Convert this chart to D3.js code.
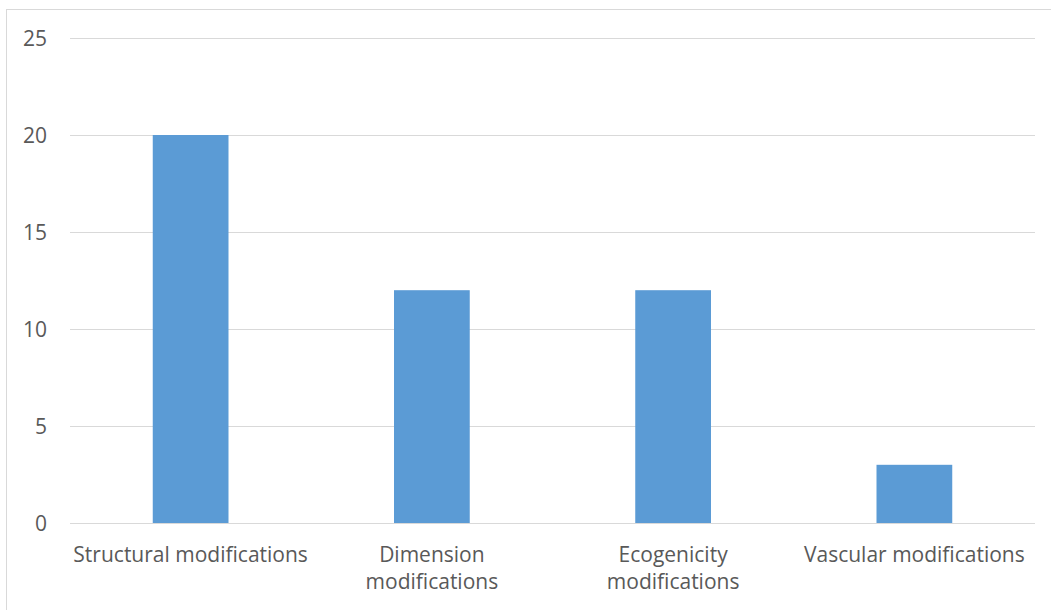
<!DOCTYPE html>
<html>
<head>
<meta charset="utf-8">
<script src="https://cdn.jsdelivr.net/npm/d3@7"></script>
<style>
  html, body { margin: 0; padding: 0; background: #fff; }
  svg { display: block; }
</style>
</head>
<body>
<svg id="chart" width="1051" height="610"></svg>
<script>
const categories = [
  ["Structural modifications"],
  ["Dimension", "modifications"],
  ["Ecogenicity", "modifications"],
  ["Vascular modifications"]
];
const values = [20, 12, 12, 3];
const yTicks = [0, 5, 10, 15, 20, 25];

const W = 1051, H = 610;
const margin = { left: 70, right: 16, top: 38, bottom: 87 };
const svg = d3.select("#chart");
const font = "'Open Sans', 'Noto Sans', sans-serif";

// chart frame
svg.append("rect")
  .attr("x", 6.5).attr("y", 9.5)
  .attr("width", W).attr("height", H)
  .attr("fill", "#fff").attr("stroke", "#d9d9d9").attr("stroke-width", 1);

const x = d3.scaleBand()
  .domain(categories.map((d, i) => i))
  .range([margin.left, W - margin.right])
  .paddingInner(0.686).paddingOuter(0.343);

const y = d3.scaleLinear()
  .domain([0, 25])
  .range([H - margin.bottom, margin.top]);

// horizontal gridlines
svg.append("g").selectAll("line")
  .data(yTicks)
  .join("line")
  .attr("x1", margin.left).attr("x2", W - margin.right)
  .attr("y1", d => Math.round(y(d)) + 0.5).attr("y2", d => Math.round(y(d)) + 0.5)
  .attr("stroke", "#d9d9d9").attr("stroke-width", 1);

// bars
svg.append("g").selectAll("rect")
  .data(values)
  .join("rect")
  .attr("x", (d, i) => x(i))
  .attr("width", x.bandwidth())
  .attr("y", d => y(d))
  .attr("height", d => y(0) - y(d))
  .attr("fill", "#5b9bd5");

// y-axis labels
svg.append("g").selectAll("text")
  .data(yTicks)
  .join("text")
  .attr("x", 47)
  .attr("y", d => y(d))
  .attr("dy", "0.36em")
  .attr("text-anchor", "end")
  .attr("font-family", font)
  .attr("font-size", 21)
  .attr("fill", "#595959")
  .text(d => d);

// category labels
const cat = svg.append("g").selectAll("text")
  .data(categories)
  .join("text")
  .attr("x", (d, i) => x(i) + x.bandwidth() / 2)
  .attr("y", 562)
  .attr("text-anchor", "middle")
  .attr("font-family", font)
  .attr("font-size", 21)
  .attr("fill", "#595959");
cat.selectAll("tspan")
  .data(d => d)
  .join("tspan")
  .attr("x", function () { return d3.select(this.parentNode).attr("x"); })
  .attr("dy", (d, i) => i === 0 ? 0 : 27)
  .text(d => d);
</script>
</body>
</html>
